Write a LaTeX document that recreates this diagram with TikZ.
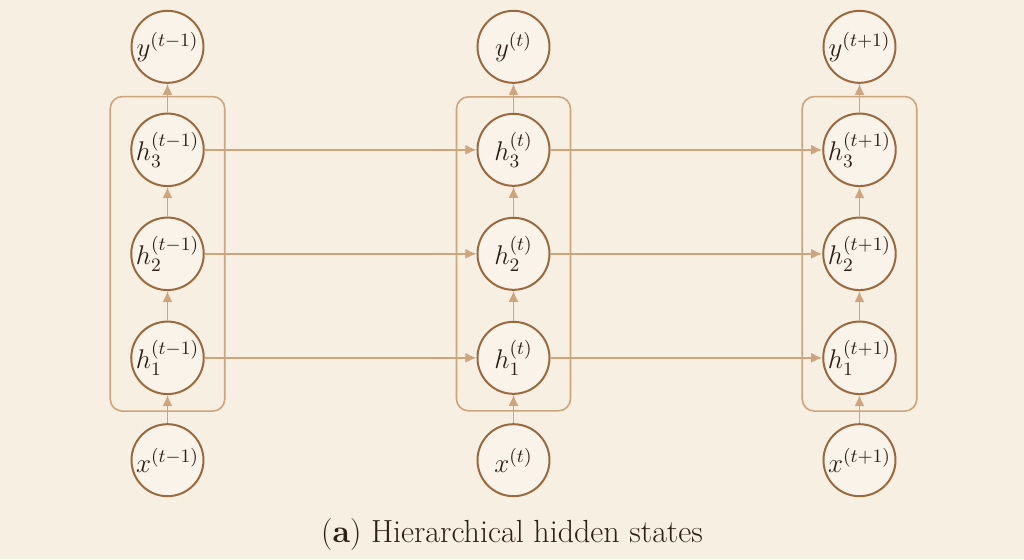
\RequirePackage{fix-cm}
\documentclass[tikz,border=0pt]{standalone}
\usepackage{amsmath}
\usetikzlibrary{matrix, fit, arrows.meta}
\definecolor{bgcream}{HTML}{F8EFE3}
\definecolor{unitfill}{HTML}{FAF3EA}
\definecolor{nodebrown}{HTML}{9A6A3E}
\definecolor{arrowtan}{HTML}{CDA47C}
\definecolor{inkbrown}{HTML}{2E2016}
\tikzset{>={Latex[length=5.5pt,width=5pt]}}
\tikzset{
unit/.style={circle, draw=nodebrown, line width=1pt, fill=unitfill, minimum size=36pt, inner sep=0pt, text=inkbrown, font=\fontsize{13.5}{16}\selectfont},
layerbox/.style={draw=arrowtan, line width=0.8pt, rounded corners=6pt, inner xsep=10pt, inner ysep=8pt},
flow/.style={->, draw=arrowtan, line width=0.8pt}
}

\begin{document}
\begin{tikzpicture}
\fill[bgcream] (-256.75pt,126.75pt) rectangle (255.25pt,-152.75pt);
\useasboundingbox (-256.75pt,126.75pt) rectangle (255.25pt,-152.75pt);
\matrix (m)
[matrix of math nodes, nodes={unit},
row sep={52pt,between origins}, column sep={173pt,between origins}
]
{
y^{(t-1)}   & y^{(t)}   & y^{(t+1)}   \\
h_3^{(t-1)} & h_3^{(t)} & h_3^{(t+1)} \\
h_2^{(t-1)} & h_2^{(t)} & h_2^{(t+1)} \\
h_1^{(t-1)} & h_1^{(t)} & h_1^{(t+1)} \\
x^{(t-1)}   & x^{(t)}   & x^{(t+1)}   \\
};
% one box per time step
\foreach \c in {1,2,3}
  \node[layerbox, fit=(m-2-\c)(m-4-\c)] (box-\c) {};
% upward flow inside each time step
\foreach \c in {1,2,3}
  \path
  (m-5-\c) edge[flow] (m-4-\c)
  (m-4-\c) edge[flow] (m-3-\c)
  (m-3-\c) edge[flow] (m-2-\c)
  (m-2-\c) edge[flow] (m-1-\c)
  ;
% recurrent links between time steps
\foreach \r in {2,3,4}
  \path
  (m-\r-1) edge[flow] (m-\r-2)
  (m-\r-2) edge[flow] (m-\r-3)
  ;
\node[text=inkbrown, font=\fontsize{16}{19}\selectfont] (caption) at (-0.75pt,-140.75pt) {(\textbf{a}) Hierarchical hidden states};
\end{tikzpicture}
\end{document}
